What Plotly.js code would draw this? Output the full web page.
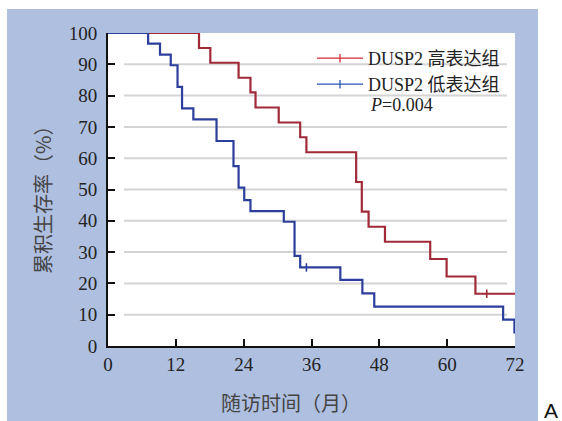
<!DOCTYPE html>
<html><head><meta charset="utf-8">
<script src="https://cdn.plot.ly/plotly-3.0.1.min.js"></script>
<style>body{margin:0;padding:0;background:#fff}#chart{width:562px;height:421px}</style>
</head><body><div id="chart"></div>
<script>
// Data
const highName = "DUSP2 高表达组";
const lowName = "DUSP2 低表达组";
const highTime = [0, 16.1, 18.1, 23.1, 25.2, 26.1, 30.2, 34.0, 35.1, 43.9, 44.9, 46.1, 49.0, 57.0, 59.9, 65.0, 72];
const highSurv = [100, 95.2, 90.5, 85.7, 81.0, 76.2, 71.4, 66.7, 61.9, 52.4, 42.9, 38.1, 33.3, 27.8, 22.2, 16.7, 16.7];
const lowTime = [0, 7.1, 9.2, 11.1, 12.3, 13.1, 15.1, 19.2, 22.2, 23.1, 24.1, 25.2, 31.1, 33.0, 34.0, 41.1, 45.0, 47.1, 69.9, 71.9];
const lowSurv = [100, 96.6, 93.1, 89.7, 82.8, 75.9, 72.4, 65.5, 57.5, 50.6, 46.6, 43.1, 39.7, 28.8, 25.1, 21.1, 16.8, 12.6, 8.4, 4.0];
const highCensorTime = [67.0];
const highCensorSurv = [16.7];
const lowCensorTime = [35.1];
const lowCensorSurv = [25.1];
const xTicks = [0, 12, 24, 36, 48, 60, 72];
const yTicks = [0, 10, 20, 30, 40, 50, 60, 70, 80, 90, 100];
const pText = "<i>P</i>=0.004";
const xTitle = "随访时间（月）";
const yTitle = "累积生存率（%）";
const panelLabel = "A";

const redCurve = "#a02a38", blueCurve = "#2c3f9c";
const redLeg = "#d42a35", blueLeg = "#2a55b5";
const serif = "Liberation Serif, Noto Sans CJK SC, serif";
const cjk = "Noto Sans CJK SC, sans-serif";

const traces = [
  {x: highTime, y: highSurv, mode: "lines", line: {shape: "hv", color: redCurve, width: 2.2}, showlegend: false, hoverinfo: "skip"},
  {x: lowTime, y: lowSurv, mode: "lines", line: {shape: "hv", color: blueCurve, width: 2.2}, showlegend: false, hoverinfo: "skip"},
  {x: highCensorTime, y: highCensorSurv, mode: "markers", marker: {symbol: "line-ns", size: 6, line: {color: redCurve, width: 1.6}}, showlegend: false},
  {x: lowCensorTime, y: lowCensorSurv, mode: "markers", marker: {symbol: "line-ns", size: 6, line: {color: blueCurve, width: 1.6}}, showlegend: false},
  {x: [null], y: [null], name: highName, legend: "legend", mode: "lines+markers", line: {color: redLeg, width: 1.3}, marker: {symbol: "line-ns", size: 6, line: {color: redLeg, width: 1.3}}},
  {x: [null], y: [null], name: lowName, legend: "legend2", mode: "lines+markers", line: {color: blueLeg, width: 1.3}, marker: {symbol: "line-ns", size: 6, line: {color: blueLeg, width: 1.3}}}
];

const L = 108, R = 515, T = 33, B = 346, W = 562, H = 421;
const pw = R - L, ph = B - T;
const px = v => (v - L) / pw;
const py = v => (B - v) / ph;

const shapes = [
  {type: "rect", xref: "paper", yref: "paper", x0: px(0), x1: px(7), y0: py(H), y1: py(0), fillcolor: "#ffffff", line: {width: 0}, layer: "below"},
  {type: "rect", xref: "paper", yref: "paper", x0: px(0), x1: px(W), y0: py(9), y1: py(0), fillcolor: "#ffffff", line: {width: 0}, layer: "below"},
  {type: "rect", xref: "paper", yref: "paper", x0: px(538), x1: px(W), y0: py(H), y1: py(0), fillcolor: "#ffffff", line: {width: 0}, layer: "below"}
];
yTicks.filter(v => v > 0 && v < 100).forEach(v => {
  shapes.push({type: "line", xref: "paper", yref: "y", x0: px(124), x1: px(507), y0: v, y1: v, line: {color: "#d4d4d4", width: 2}, layer: "below"});
});

const legFont = {family: serif, size: 18, color: "#222"};
const layout = {
  width: W, height: H,
  margin: {l: L, r: W - R, t: T, b: H - B, pad: 0},
  paper_bgcolor: "#afbfe0",
  plot_bgcolor: "#ffffff",
  showlegend: true,
  legend: {x: px(312), y: py(40), xanchor: "left", yanchor: "top", bgcolor: "rgba(0,0,0,0)", font: legFont, itemwidth: 46},
  legend2: {x: px(312), y: py(66), xanchor: "left", yanchor: "top", bgcolor: "rgba(0,0,0,0)", font: legFont, itemwidth: 46},
  xaxis: {range: [0, 72], tickvals: xTicks, ticktext: xTicks.map(String), ticks: "inside", ticklen: 7, tickwidth: 2, tickcolor: "#111",
    showline: true, linecolor: "#111", linewidth: 2, showgrid: false, zeroline: false,
    tickfont: {family: serif, size: 19, color: "#222"}, ticklabelstandoff: 0, automargin: false},
  yaxis: {range: [0, 100], tickvals: yTicks, ticktext: yTicks.map(String), ticks: "inside", ticklen: 7, tickwidth: 2, tickcolor: "#111",
    showline: true, linecolor: "#111", linewidth: 2, showgrid: false, zeroline: false,
    tickfont: {family: serif, size: 19, color: "#222"}, ticklabelstandoff: 5, automargin: false},
  shapes: shapes,
  annotations: [
    {text: pText, xref: "paper", yref: "paper", x: px(368), y: py(105), xanchor: "left", yanchor: "middle", showarrow: false, font: {family: serif, size: 18, color: "#222"}},
    {text: xTitle, xref: "paper", yref: "paper", x: px(291), y: py(402), xanchor: "center", yanchor: "middle", showarrow: false, font: {family: cjk, size: 20, color: "#444"}},
    {text: yTitle, xref: "paper", yref: "paper", x: px(42), y: py(195), xanchor: "center", yanchor: "middle", textangle: -90, showarrow: false, font: {family: cjk, size: 20, color: "#444"}},
    {text: panelLabel, xref: "paper", yref: "paper", x: px(551), y: py(410), xanchor: "center", yanchor: "middle", showarrow: false, font: {family: "Liberation Sans, Arial, sans-serif", size: 21, color: "#111"}}
  ]
};

Plotly.newPlot("chart", traces, layout, {displayModeBar: false, staticPlot: true});
</script></body></html>
